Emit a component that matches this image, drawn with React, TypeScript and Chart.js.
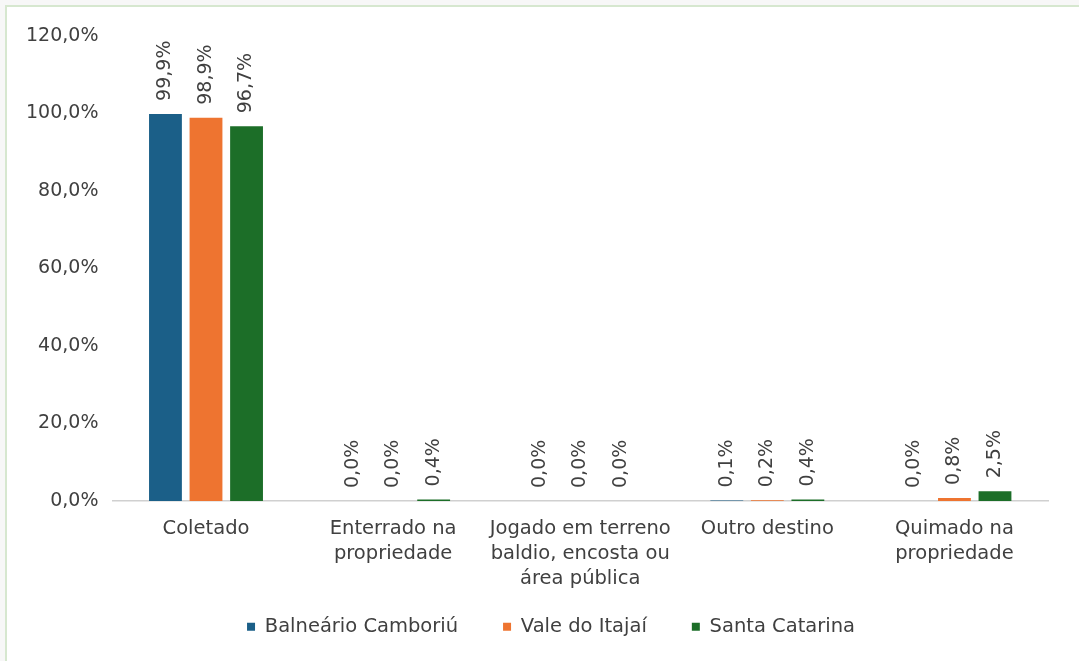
import React, { useEffect, useRef } from 'react';
import { Chart, registerables } from 'chart.js';

Chart.register(...registerables);

const categories: string[][] = [
  ['Coletado'],
  ['Enterrado na', 'propriedade'],
  ['Jogado em terreno', 'baldio, encosta ou', 'área pública'],
  ['Outro destino'],
  ['Quimado na', 'propriedade'],
];
const seriesNames = ['Balneário Camboriú', 'Vale do Itajaí', 'Santa Catarina'];
const balnearioCamboriu = [99.9, 0.0, 0.0, 0.1, 0.0];
const valeDoItajai = [98.9, 0.0, 0.0, 0.2, 0.8];
const santaCatarina = [96.7, 0.4, 0.0, 0.4, 2.5];
const seriesColors = ['#1b5f88', '#ee7430', '#1c6e28'];
const yMin = 0;
const yMax = 120;
const yStep = 20;

const FONT = 'DejaVu Sans';
const TEXT = '#404040';

const fmt = (v: number) => v.toFixed(1).replace('.', ',') + '%';

const valueLabels = {
  id: 'valueLabels',
  afterDatasetsDraw(chart: any) {
    const ctx = chart.ctx;
    ctx.save();
    ctx.font = `19px "${FONT}"`;
    ctx.fillStyle = TEXT;
    ctx.textAlign = 'left';
    ctx.textBaseline = 'middle';
    chart.data.datasets.forEach((ds: any, di: number) => {
      const meta = chart.getDatasetMeta(di);
      meta.data.forEach((bar: any, i: number) => {
        const v = ds.data[i];
        ctx.save();
        ctx.translate(bar.x, bar.y - 13);
        ctx.rotate(-Math.PI / 2);
        ctx.fillText(fmt(v), 0, 0);
        ctx.restore();
      });
    });
    ctx.restore();
  },
};

const legendShift = {
  id: 'legendShift',
  afterLayout(chart: any) {
    const l = chart.legend;
    if (l) {
      l.left += 21;
      l.right += 21;
      l.top -= 34;
      l.bottom -= 34;
    }
  },
};

export default function App() {
  const ref = useRef<HTMLCanvasElement>(null);
  useEffect(() => {
    if (!ref.current) return;
    const data = [balnearioCamboriu, valeDoItajai, santaCatarina];
    const chart = new Chart(ref.current, {
      type: 'bar',
      data: {
        labels: categories,
        datasets: seriesNames.map((n, i) => ({
          label: n,
          data: data[i],
          backgroundColor: seriesColors[i],
          borderWidth: 0,
          categoryPercentage: 0.65,
          barPercentage: 0.81,
        })),
      },
      options: {
        animation: false,
        responsive: false,
        layout: { padding: { left: 5, right: 31, top: 29, bottom: 6.5 } },
        plugins: {
          tooltip: { enabled: false },
          legend: {
            position: 'bottom',
            labels: {
              boxWidth: 8,
              boxHeight: 8,
              padding: 45,
              color: TEXT,
              font: { family: FONT, size: 19.5 },
            },
          },
        },
        scales: {
          x: {
            grid: { display: false, drawTicks: false },
            border: { display: true, color: '#d0d0d0', width: 1.5 },
            ticks: {
              padding: 15,
              color: TEXT,
              maxRotation: 0,
              autoSkip: false,
              font: { family: FONT, size: 19.5, lineHeight: 25 / 19.5 },
            },
          },
          y: {
            min: yMin,
            max: yMax,
            grid: { display: false, drawTicks: false },
            border: { display: false },
            ticks: {
              stepSize: yStep,
              padding: 14,
              color: TEXT,
              font: { family: FONT, size: 19 },
              callback: (v: any) => fmt(Number(v)),
            },
          },
        },
      },
      plugins: [valueLabels, legendShift],
    });
    return () => chart.destroy();
  }, []);

  return (
    <div style={{ position: 'fixed', left: 0, top: 0, width: 1079, height: 661, background: '#f7f7f7', overflow: 'hidden' }}>
      <div
        style={{
          position: 'absolute', left: 5, top: 5, width: 1074, height: 656,
          borderTop: '2px solid #d6e7cf', borderLeft: '2px solid #d6e7cf',
          background: '#ffffff', boxSizing: 'border-box', overflow: 'hidden',
        }}
      >
        <canvas ref={ref} width={1072} height={680} style={{ display: 'block', width: 1072, height: 680 }} />
      </div>
    </div>
  );
}
